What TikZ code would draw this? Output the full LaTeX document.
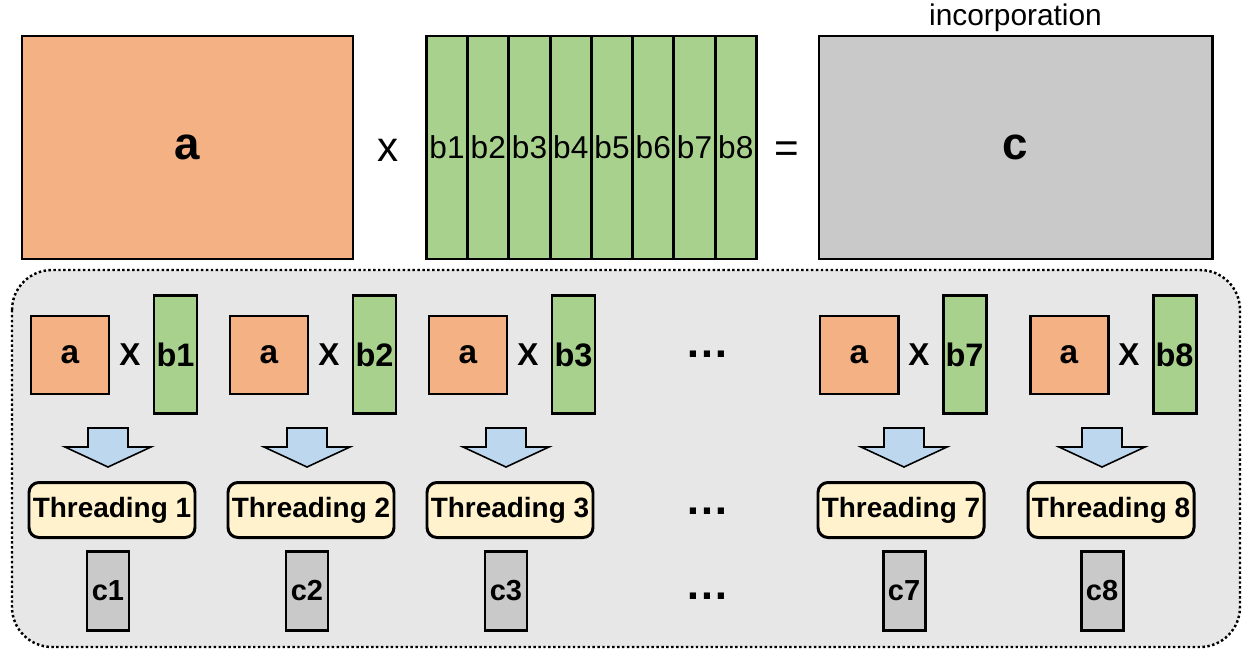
\documentclass[tikz,border=0pt]{standalone}
\usepackage{fontspec}
\setmainfont{Liberation Sans}
\usetikzlibrary{positioning}
\definecolor{matA}{HTML}{F4B183}
\definecolor{matB}{HTML}{A9D18E}
\definecolor{matC}{HTML}{C9C9C9}
\definecolor{poolgray}{HTML}{E7E7E7}
\definecolor{arrowblue}{HTML}{BDD7EE}
\definecolor{threadfill}{HTML}{FFF2CC}
\def\u{0.02cm}
\newcommand\fs[1]{\fontsize{#1}{#1}\selectfont}
\tikzset{
  mat/.style={draw, line width=1.7pt, inner sep=0pt},
  bigA/.style={mat, fill=matA, minimum width=331*\u, minimum height=223*\u, font=\bfseries\fs{26}},
  bigB/.style={mat, fill=matB, minimum width=41.25*\u, minimum height=223*\u, font=\fs{18}},
  bigC/.style={mat, fill=matC, minimum width=393*\u, minimum height=223*\u, font=\bfseries\fs{26}},
  smallA/.style={mat, fill=matA, minimum width=78*\u, minimum height=78*\u, font=\bfseries\fs{19}},
  smallB/.style={mat, fill=matB, minimum width=43*\u, minimum height=118*\u, font=\bfseries\fs{18.5}},
  smallC/.style={mat, fill=matC, minimum width=42*\u, minimum height=79*\u, font=\bfseries\fs{16.5}},
  thread/.style={mat, fill=threadfill, rounded corners=10*\u, minimum width=166*\u, minimum height=55*\u, font=\bfseries\fs{15.9}},
  flowarrow/.style={draw, line width=0.9pt, fill=arrowblue, line join=miter},
  sym/.style={inner sep=0pt},
  pool/.style={draw, line width=1.4pt, dash pattern=on 1.4pt off 1.4pt, fill=poolgray, rounded corners=40*\u}
}
\begin{document}
\begin{tikzpicture}[x=\u, y=-\u]
	\useasboundingbox (0,0) rectangle (1252,660);
	%% whole product
	\node[bigA] (Abig) at (187.5,147.5) {a};
	\node[sym, font=\fs{24}] (times) at (388,150) {x};
	\foreach \k in {1,...,8}
		\node[bigB] (Bbig\k) at ({426.4+41.25*(\k-0.5)},147.5) {b\k};
	\node[sym, font=\fs{24}] (equals) at (787,152) {=};
	\node[bigC] (Cbig) at (1015.5,147.5) {c};
	\node[sym, font=\fs{17}, anchor=base] (incorp) at (Cbig.north |- 0,25) {incorporation};
	%% thread pool
	\draw[pool] (12,270) rectangle (1240,647);
	\foreach \dx/\k/\ex in {0/1/0, 199/2/0, 398/3/0, 789/7/7, 999/8/-5} {
		\node[smallA] (A\k) at (70+\dx,355) {a};
		\node[sym, font=\bfseries\fs{18}] (X\k) at (130+\dx,355) {X};
		\node[smallB] (B\k) at (175.5+\dx,354.5) {b\k};
		\node[thread] (T\k) at (112+\dx,510) {Threading \k};
		\node[smallC] (C\k) at (108+\dx+\ex,591) {c\k};
		\draw[flowarrow, shift={(108+\dx+\ex,428)}]
			(-20,0) -- (20,0) -- (20,19) -- (43,19) -- (0,39) -- (-43,19) -- (-20,19) -- cycle;
	}
	%% skipped threads
	\node[sym, font=\bfseries\fs{25}] (dotsA) at (707,354) {…};
	\node[sym, font=\bfseries\fs{25}] (dotsT) at (707,511) {…};
	\node[sym, font=\bfseries\fs{25}] (dotsC) at (707,596) {…};
\end{tikzpicture}
\end{document}
